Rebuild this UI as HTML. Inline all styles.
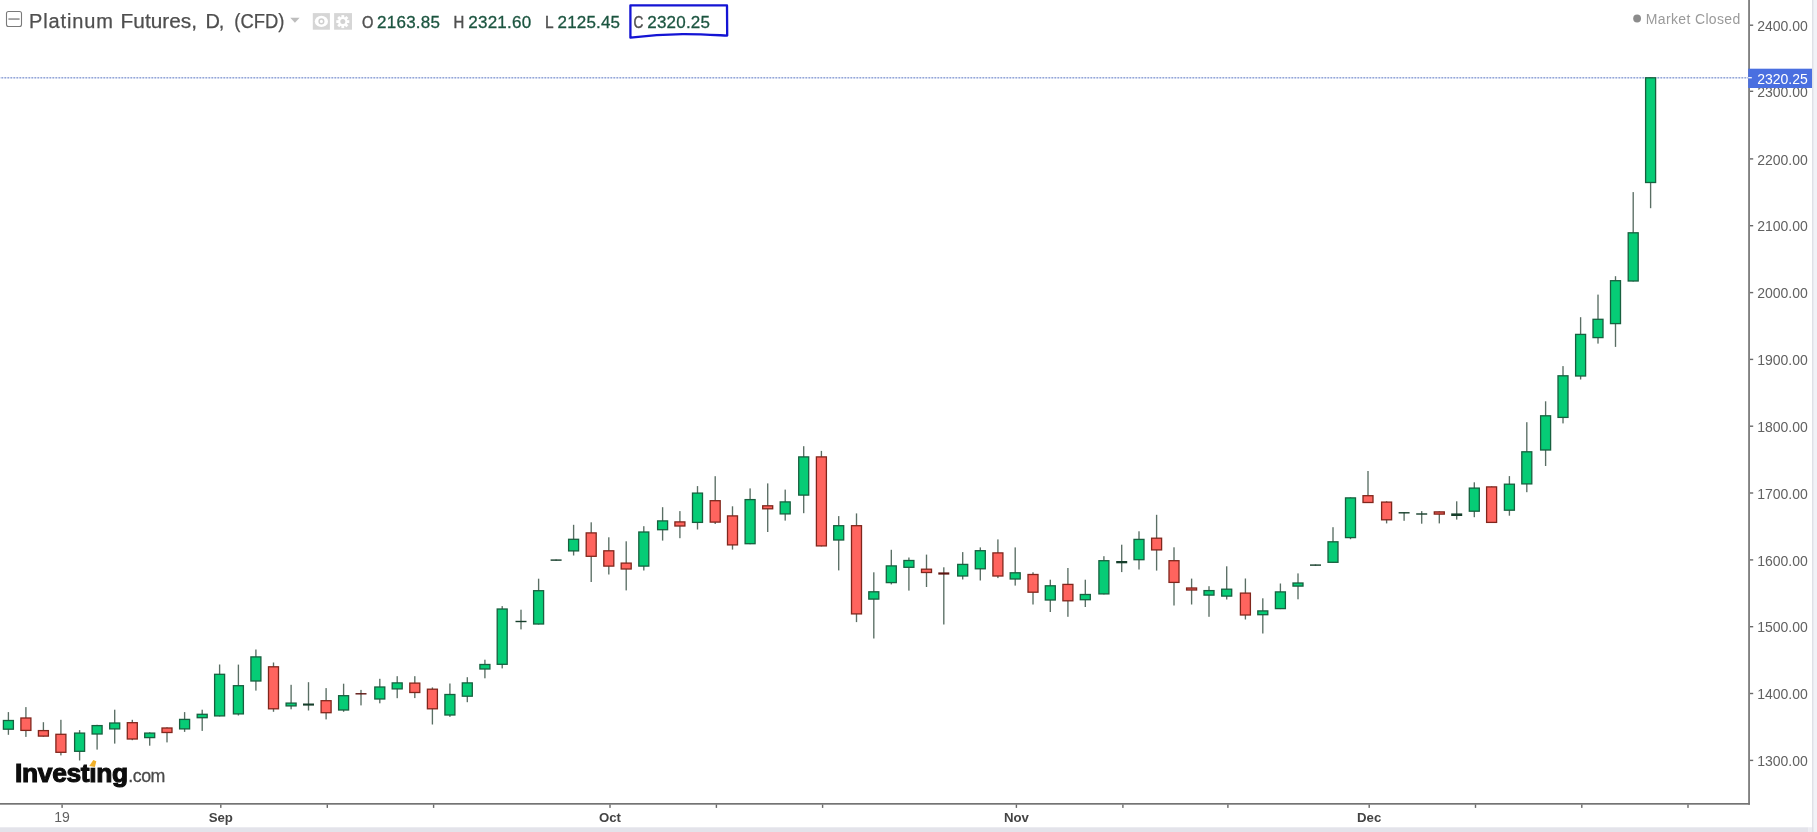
<!DOCTYPE html>
<html><head><meta charset="utf-8"><title>Platinum Futures</title>
<style>
html,body{margin:0;padding:0;background:#fff;}
body{width:1817px;height:832px;overflow:hidden;position:relative;font-family:"Liberation Sans",sans-serif;}
svg{position:absolute;left:-20px;top:-20px;filter:blur(0.45px);}
text{font-family:"Liberation Sans",sans-serif;}
.ax{font-size:14px;fill:#616161;}
.axb{font-size:13.2px;fill:#444;font-weight:bold;}
</style></head><body>
<svg width="1857" height="872" viewBox="-20 -20 1857 872">
<rect x="-20" y="-20" width="1857" height="872" fill="#fff"/>
<!-- right strip and bottom band -->
<rect x="-20" y="827.3" width="1828.5" height="26" fill="#e3e3ea"/>
<rect x="1808.5" y="827.3" width="29" height="26" fill="#ececf2"/>
<rect x="1813.2" y="-20" width="25" height="872" fill="#f1f2f7"/>
<rect x="1812.1" y="-20" width="1.3" height="872" fill="#dcdde4"/>
<!-- last price dotted line -->
<line x1="-19.5" y1="77.7" x2="1748" y2="77.7" stroke="#dfe5f5" stroke-width="1.6"/>
<line x1="-19.5" y1="77.7" x2="1748" y2="77.7" stroke="#94a6d8" stroke-width="1.4" stroke-dasharray="1.5 1.5"/>
<!-- candles -->
<rect x="7.73" y="712.1" width="1.35" height="22.7" fill="#5a6e64"/>
<rect x="25.23" y="707.1" width="1.35" height="29.8" fill="#5a6e64"/>
<rect x="42.73" y="722.2" width="1.35" height="14.4" fill="#5a6e64"/>
<rect x="60.23" y="719.8" width="1.35" height="35.6" fill="#5a6e64"/>
<rect x="78.93" y="730.1" width="1.35" height="30.4" fill="#5a6e64"/>
<rect x="96.43" y="724.8" width="1.35" height="24.8" fill="#5a6e64"/>
<rect x="114.03" y="709.7" width="1.35" height="33.9" fill="#5a6e64"/>
<rect x="131.63" y="719.8" width="1.35" height="20.4" fill="#5a6e64"/>
<rect x="149.03" y="732.3" width="1.35" height="13.4" fill="#5a6e64"/>
<rect x="166.33" y="727.3" width="1.35" height="15.1" fill="#5a6e64"/>
<rect x="183.93" y="712.1" width="1.35" height="19.8" fill="#5a6e64"/>
<rect x="201.53" y="709.7" width="1.35" height="21.2" fill="#5a6e64"/>
<rect x="218.93" y="664.5" width="1.35" height="51.9" fill="#5a6e64"/>
<rect x="237.73" y="664.6" width="1.35" height="50.9" fill="#5a6e64"/>
<rect x="255.23" y="649.5" width="1.35" height="41.1" fill="#5a6e64"/>
<rect x="272.83" y="662.5" width="1.35" height="49.3" fill="#5a6e64"/>
<rect x="290.43" y="684.8" width="1.35" height="24.5" fill="#5a6e64"/>
<rect x="307.83" y="682.2" width="1.35" height="28.3" fill="#5a6e64"/>
<rect x="325.43" y="688.1" width="1.35" height="31.3" fill="#5a6e64"/>
<rect x="342.93" y="683.7" width="1.35" height="28.1" fill="#5a6e64"/>
<rect x="360.33" y="689.9" width="1.35" height="15.5" fill="#5a6e64"/>
<rect x="379.13" y="678.8" width="1.35" height="24.5" fill="#5a6e64"/>
<rect x="396.53" y="676.2" width="1.35" height="22.0" fill="#5a6e64"/>
<rect x="414.13" y="676.2" width="1.35" height="21.9" fill="#5a6e64"/>
<rect x="431.73" y="687.4" width="1.35" height="37.1" fill="#5a6e64"/>
<rect x="449.23" y="683.5" width="1.35" height="33.4" fill="#5a6e64"/>
<rect x="466.63" y="677.2" width="1.35" height="25.0" fill="#5a6e64"/>
<rect x="484.23" y="659.7" width="1.35" height="18.6" fill="#5a6e64"/>
<rect x="501.53" y="606.1" width="1.35" height="62.3" fill="#5a6e64"/>
<rect x="520.33" y="609.7" width="1.35" height="19.7" fill="#5a6e64"/>
<rect x="537.93" y="578.7" width="1.35" height="45.8" fill="#5a6e64"/>
<rect x="555.43" y="559.5" width="1.35" height="1.2" fill="#5a6e64"/>
<rect x="572.93" y="524.8" width="1.35" height="30.7" fill="#5a6e64"/>
<rect x="590.53" y="522.3" width="1.35" height="59.7" fill="#5a6e64"/>
<rect x="608.13" y="537.3" width="1.35" height="37.2" fill="#5a6e64"/>
<rect x="625.53" y="541.3" width="1.35" height="49.1" fill="#5a6e64"/>
<rect x="643.13" y="526.2" width="1.35" height="44.3" fill="#5a6e64"/>
<rect x="661.93" y="507.2" width="1.35" height="33.4" fill="#5a6e64"/>
<rect x="679.23" y="511.1" width="1.35" height="27.1" fill="#5a6e64"/>
<rect x="696.83" y="486.1" width="1.35" height="43.4" fill="#5a6e64"/>
<rect x="714.53" y="476.2" width="1.35" height="47.8" fill="#5a6e64"/>
<rect x="731.83" y="506.3" width="1.35" height="43.3" fill="#5a6e64"/>
<rect x="749.43" y="488.4" width="1.35" height="55.8" fill="#5a6e64"/>
<rect x="767.03" y="483.4" width="1.35" height="48.6" fill="#5a6e64"/>
<rect x="784.53" y="489.6" width="1.35" height="31.0" fill="#5a6e64"/>
<rect x="803.03" y="446.2" width="1.35" height="67.0" fill="#5a6e64"/>
<rect x="820.73" y="450.9" width="1.35" height="95.5" fill="#5a6e64"/>
<rect x="838.03" y="516.1" width="1.35" height="54.3" fill="#5a6e64"/>
<rect x="855.83" y="513.4" width="1.35" height="108.7" fill="#5a6e64"/>
<rect x="873.13" y="572.3" width="1.35" height="66.2" fill="#5a6e64"/>
<rect x="890.63" y="549.8" width="1.35" height="34.6" fill="#5a6e64"/>
<rect x="908.23" y="557.5" width="1.35" height="33.1" fill="#5a6e64"/>
<rect x="925.83" y="554.6" width="1.35" height="32.4" fill="#5a6e64"/>
<rect x="943.13" y="567.3" width="1.35" height="57.2" fill="#5a6e64"/>
<rect x="962.03" y="552.1" width="1.35" height="27.4" fill="#5a6e64"/>
<rect x="979.63" y="547.4" width="1.35" height="33.1" fill="#5a6e64"/>
<rect x="997.23" y="539.4" width="1.35" height="38.7" fill="#5a6e64"/>
<rect x="1014.53" y="547.4" width="1.35" height="38.2" fill="#5a6e64"/>
<rect x="1032.33" y="572.3" width="1.35" height="32.2" fill="#5a6e64"/>
<rect x="1049.63" y="579.7" width="1.35" height="32.3" fill="#5a6e64"/>
<rect x="1067.23" y="568.0" width="1.35" height="48.8" fill="#5a6e64"/>
<rect x="1084.63" y="579.7" width="1.35" height="27.3" fill="#5a6e64"/>
<rect x="1103.23" y="556.2" width="1.35" height="38.2" fill="#5a6e64"/>
<rect x="1121.03" y="544.7" width="1.35" height="27.4" fill="#5a6e64"/>
<rect x="1138.33" y="531.3" width="1.35" height="38.2" fill="#5a6e64"/>
<rect x="1155.93" y="514.8" width="1.35" height="55.8" fill="#5a6e64"/>
<rect x="1173.33" y="547.3" width="1.35" height="58.2" fill="#5a6e64"/>
<rect x="1190.93" y="578.6" width="1.35" height="25.9" fill="#5a6e64"/>
<rect x="1208.33" y="586.2" width="1.35" height="30.6" fill="#5a6e64"/>
<rect x="1226.03" y="566.3" width="1.35" height="33.2" fill="#5a6e64"/>
<rect x="1244.73" y="578.5" width="1.35" height="41.0" fill="#5a6e64"/>
<rect x="1262.13" y="598.3" width="1.35" height="35.2" fill="#5a6e64"/>
<rect x="1279.73" y="583.5" width="1.35" height="25.6" fill="#5a6e64"/>
<rect x="1297.33" y="573.4" width="1.35" height="25.9" fill="#5a6e64"/>
<rect x="1314.83" y="564.5" width="1.35" height="1.2" fill="#5a6e64"/>
<rect x="1332.33" y="527.2" width="1.35" height="35.6" fill="#5a6e64"/>
<rect x="1349.83" y="497.4" width="1.35" height="41.8" fill="#5a6e64"/>
<rect x="1367.33" y="471.0" width="1.35" height="32.0" fill="#5a6e64"/>
<rect x="1385.93" y="501.3" width="1.35" height="22.1" fill="#5a6e64"/>
<rect x="1403.43" y="512.2" width="1.35" height="8.6" fill="#5a6e64"/>
<rect x="1421.03" y="511.1" width="1.35" height="12.6" fill="#5a6e64"/>
<rect x="1438.63" y="511.4" width="1.35" height="12.0" fill="#5a6e64"/>
<rect x="1456.03" y="501.3" width="1.35" height="18.3" fill="#5a6e64"/>
<rect x="1473.63" y="482.3" width="1.35" height="34.9" fill="#5a6e64"/>
<rect x="1490.93" y="486.4" width="1.35" height="36.5" fill="#5a6e64"/>
<rect x="1508.73" y="476.1" width="1.35" height="39.6" fill="#5a6e64"/>
<rect x="1526.13" y="422.2" width="1.35" height="70.0" fill="#5a6e64"/>
<rect x="1544.93" y="401.3" width="1.35" height="64.7" fill="#5a6e64"/>
<rect x="1562.33" y="366.1" width="1.35" height="57.3" fill="#5a6e64"/>
<rect x="1579.93" y="317.2" width="1.35" height="62.3" fill="#5a6e64"/>
<rect x="1597.33" y="294.6" width="1.35" height="49.0" fill="#5a6e64"/>
<rect x="1614.83" y="276.2" width="1.35" height="70.7" fill="#5a6e64"/>
<rect x="1632.53" y="192.1" width="1.35" height="89.4" fill="#5a6e64"/>
<rect x="1649.93" y="77.3" width="1.35" height="130.9" fill="#5a6e64"/>
<rect x="3.40" y="720.5" width="10" height="8.7" fill="#06cc76" stroke="#17603f" stroke-width="1.3"/>
<rect x="20.90" y="718.0" width="10" height="12.4" fill="#ff645e" stroke="#80261c" stroke-width="1.3"/>
<rect x="38.40" y="730.6" width="10" height="5.5" fill="#ff645e" stroke="#80261c" stroke-width="1.3"/>
<rect x="55.90" y="734.3" width="10" height="18.0" fill="#ff645e" stroke="#80261c" stroke-width="1.3"/>
<rect x="74.60" y="733.1" width="10" height="18.2" fill="#06cc76" stroke="#17603f" stroke-width="1.3"/>
<rect x="92.10" y="725.6" width="10" height="8.4" fill="#06cc76" stroke="#17603f" stroke-width="1.3"/>
<rect x="109.70" y="723.0" width="10" height="5.9" fill="#06cc76" stroke="#17603f" stroke-width="1.3"/>
<rect x="127.30" y="722.7" width="10" height="16.3" fill="#ff645e" stroke="#80261c" stroke-width="1.3"/>
<rect x="144.70" y="733.1" width="10" height="4.5" fill="#06cc76" stroke="#17603f" stroke-width="1.3"/>
<rect x="162.00" y="728.0" width="10" height="4.5" fill="#ff645e" stroke="#80261c" stroke-width="1.3"/>
<rect x="179.60" y="719.4" width="10" height="9.5" fill="#06cc76" stroke="#17603f" stroke-width="1.3"/>
<rect x="197.20" y="714.3" width="10" height="3.4" fill="#06cc76" stroke="#17603f" stroke-width="1.3"/>
<rect x="214.60" y="674.3" width="10" height="41.6" fill="#06cc76" stroke="#17603f" stroke-width="1.3"/>
<rect x="233.40" y="685.7" width="10" height="28.2" fill="#06cc76" stroke="#17603f" stroke-width="1.3"/>
<rect x="250.90" y="656.9" width="10" height="24.1" fill="#06cc76" stroke="#17603f" stroke-width="1.3"/>
<rect x="268.50" y="666.8" width="10" height="42.0" fill="#ff645e" stroke="#80261c" stroke-width="1.3"/>
<rect x="286.10" y="703.1" width="10" height="2.8" fill="#06cc76" stroke="#17603f" stroke-width="1.3"/>
<rect x="303.00" y="703.5" width="11" height="2.1" fill="#163f2b"/>
<rect x="321.10" y="700.7" width="10" height="12.0" fill="#ff645e" stroke="#80261c" stroke-width="1.3"/>
<rect x="338.60" y="695.7" width="10" height="14.3" fill="#06cc76" stroke="#17603f" stroke-width="1.3"/>
<rect x="355.50" y="693.1" width="11" height="1.4" fill="#5e1510"/>
<rect x="374.80" y="687.0" width="10" height="12.0" fill="#06cc76" stroke="#17603f" stroke-width="1.3"/>
<rect x="392.20" y="682.9" width="10" height="6.0" fill="#06cc76" stroke="#17603f" stroke-width="1.3"/>
<rect x="409.80" y="683.1" width="10" height="9.4" fill="#ff645e" stroke="#80261c" stroke-width="1.3"/>
<rect x="427.40" y="689.2" width="10" height="19.6" fill="#ff645e" stroke="#80261c" stroke-width="1.3"/>
<rect x="444.90" y="694.5" width="10" height="20.5" fill="#06cc76" stroke="#17603f" stroke-width="1.3"/>
<rect x="462.30" y="682.9" width="10" height="13.3" fill="#06cc76" stroke="#17603f" stroke-width="1.3"/>
<rect x="479.90" y="664.5" width="10" height="4.5" fill="#06cc76" stroke="#17603f" stroke-width="1.3"/>
<rect x="497.20" y="609.0" width="10" height="55.3" fill="#06cc76" stroke="#17603f" stroke-width="1.3"/>
<rect x="515.50" y="620.8" width="11" height="1.4" fill="#163f2b"/>
<rect x="533.60" y="590.7" width="10" height="33.3" fill="#06cc76" stroke="#17603f" stroke-width="1.3"/>
<rect x="550.60" y="559.4" width="11" height="1.4" fill="#163f2b"/>
<rect x="568.60" y="539.3" width="10" height="11.6" fill="#06cc76" stroke="#17603f" stroke-width="1.3"/>
<rect x="586.20" y="532.9" width="10" height="23.4" fill="#ff645e" stroke="#80261c" stroke-width="1.3"/>
<rect x="603.80" y="550.8" width="10" height="15.3" fill="#ff645e" stroke="#80261c" stroke-width="1.3"/>
<rect x="621.20" y="563.1" width="10" height="5.9" fill="#ff645e" stroke="#80261c" stroke-width="1.3"/>
<rect x="638.80" y="532.0" width="10" height="34.1" fill="#06cc76" stroke="#17603f" stroke-width="1.3"/>
<rect x="657.60" y="520.9" width="10" height="8.8" fill="#06cc76" stroke="#17603f" stroke-width="1.3"/>
<rect x="674.90" y="521.9" width="10" height="4.1" fill="#ff645e" stroke="#80261c" stroke-width="1.3"/>
<rect x="692.50" y="493.1" width="10" height="29.3" fill="#06cc76" stroke="#17603f" stroke-width="1.3"/>
<rect x="710.20" y="500.7" width="10" height="21.4" fill="#ff645e" stroke="#80261c" stroke-width="1.3"/>
<rect x="727.50" y="515.9" width="10" height="29.0" fill="#ff645e" stroke="#80261c" stroke-width="1.3"/>
<rect x="745.10" y="499.6" width="10" height="44.1" fill="#06cc76" stroke="#17603f" stroke-width="1.3"/>
<rect x="762.70" y="505.8" width="10" height="3.0" fill="#ff645e" stroke="#80261c" stroke-width="1.3"/>
<rect x="780.20" y="501.9" width="10" height="12.0" fill="#06cc76" stroke="#17603f" stroke-width="1.3"/>
<rect x="798.70" y="456.9" width="10" height="38.2" fill="#06cc76" stroke="#17603f" stroke-width="1.3"/>
<rect x="816.40" y="456.9" width="10" height="89.0" fill="#ff645e" stroke="#80261c" stroke-width="1.3"/>
<rect x="833.70" y="525.7" width="10" height="14.3" fill="#06cc76" stroke="#17603f" stroke-width="1.3"/>
<rect x="851.50" y="525.7" width="10" height="88.2" fill="#ff645e" stroke="#80261c" stroke-width="1.3"/>
<rect x="868.80" y="591.8" width="10" height="7.3" fill="#06cc76" stroke="#17603f" stroke-width="1.3"/>
<rect x="886.30" y="565.9" width="10" height="16.7" fill="#06cc76" stroke="#17603f" stroke-width="1.3"/>
<rect x="903.90" y="560.5" width="10" height="6.8" fill="#06cc76" stroke="#17603f" stroke-width="1.3"/>
<rect x="921.50" y="569.2" width="10" height="3.3" fill="#ff645e" stroke="#80261c" stroke-width="1.3"/>
<rect x="938.30" y="572.4" width="11" height="2.2" fill="#5e1510"/>
<rect x="957.70" y="564.4" width="10" height="11.6" fill="#06cc76" stroke="#17603f" stroke-width="1.3"/>
<rect x="975.30" y="550.7" width="10" height="18.1" fill="#06cc76" stroke="#17603f" stroke-width="1.3"/>
<rect x="992.90" y="552.9" width="10" height="23.1" fill="#ff645e" stroke="#80261c" stroke-width="1.3"/>
<rect x="1010.20" y="572.8" width="10" height="6.2" fill="#06cc76" stroke="#17603f" stroke-width="1.3"/>
<rect x="1028.00" y="574.5" width="10" height="17.7" fill="#ff645e" stroke="#80261c" stroke-width="1.3"/>
<rect x="1045.30" y="585.8" width="10" height="14.2" fill="#06cc76" stroke="#17603f" stroke-width="1.3"/>
<rect x="1062.90" y="584.4" width="10" height="16.4" fill="#ff645e" stroke="#80261c" stroke-width="1.3"/>
<rect x="1080.30" y="594.5" width="10" height="5.2" fill="#06cc76" stroke="#17603f" stroke-width="1.3"/>
<rect x="1098.90" y="560.7" width="10" height="33.2" fill="#06cc76" stroke="#17603f" stroke-width="1.3"/>
<rect x="1116.20" y="561.0" width="11" height="2.3" fill="#163f2b"/>
<rect x="1134.00" y="539.4" width="10" height="20.3" fill="#06cc76" stroke="#17603f" stroke-width="1.3"/>
<rect x="1151.60" y="538.2" width="10" height="11.7" fill="#ff645e" stroke="#80261c" stroke-width="1.3"/>
<rect x="1169.00" y="560.7" width="10" height="21.7" fill="#ff645e" stroke="#80261c" stroke-width="1.3"/>
<rect x="1186.60" y="588.0" width="10" height="2.0" fill="#ff645e" stroke="#80261c" stroke-width="1.3"/>
<rect x="1204.00" y="590.6" width="10" height="4.5" fill="#06cc76" stroke="#17603f" stroke-width="1.3"/>
<rect x="1221.70" y="589.2" width="10" height="6.9" fill="#06cc76" stroke="#17603f" stroke-width="1.3"/>
<rect x="1240.40" y="593.1" width="10" height="21.9" fill="#ff645e" stroke="#80261c" stroke-width="1.3"/>
<rect x="1257.80" y="610.9" width="10" height="3.8" fill="#06cc76" stroke="#17603f" stroke-width="1.3"/>
<rect x="1275.40" y="591.9" width="10" height="16.7" fill="#06cc76" stroke="#17603f" stroke-width="1.3"/>
<rect x="1293.00" y="583.0" width="10" height="3.1" fill="#06cc76" stroke="#17603f" stroke-width="1.3"/>
<rect x="1310.00" y="564.4" width="11" height="1.4" fill="#163f2b"/>
<rect x="1328.00" y="541.8" width="10" height="20.5" fill="#06cc76" stroke="#17603f" stroke-width="1.3"/>
<rect x="1345.50" y="497.9" width="10" height="39.7" fill="#06cc76" stroke="#17603f" stroke-width="1.3"/>
<rect x="1363.00" y="495.7" width="10" height="6.8" fill="#ff645e" stroke="#80261c" stroke-width="1.3"/>
<rect x="1381.60" y="502.1" width="10" height="17.7" fill="#ff645e" stroke="#80261c" stroke-width="1.3"/>
<rect x="1398.60" y="512.1" width="11" height="1.4" fill="#163f2b"/>
<rect x="1416.20" y="513.3" width="11" height="1.4" fill="#163f2b"/>
<rect x="1434.30" y="511.9" width="10" height="2.2" fill="#ff645e" stroke="#80261c" stroke-width="1.3"/>
<rect x="1451.20" y="513.4" width="11" height="2.6" fill="#163f2b"/>
<rect x="1469.30" y="488.1" width="10" height="23.1" fill="#06cc76" stroke="#17603f" stroke-width="1.3"/>
<rect x="1486.60" y="486.9" width="10" height="35.5" fill="#ff645e" stroke="#80261c" stroke-width="1.3"/>
<rect x="1504.40" y="484.2" width="10" height="26.0" fill="#06cc76" stroke="#17603f" stroke-width="1.3"/>
<rect x="1521.80" y="451.8" width="10" height="32.1" fill="#06cc76" stroke="#17603f" stroke-width="1.3"/>
<rect x="1540.60" y="415.8" width="10" height="34.2" fill="#06cc76" stroke="#17603f" stroke-width="1.3"/>
<rect x="1558.00" y="375.8" width="10" height="41.6" fill="#06cc76" stroke="#17603f" stroke-width="1.3"/>
<rect x="1575.60" y="334.4" width="10" height="41.6" fill="#06cc76" stroke="#17603f" stroke-width="1.3"/>
<rect x="1593.00" y="319.3" width="10" height="18.3" fill="#06cc76" stroke="#17603f" stroke-width="1.3"/>
<rect x="1610.50" y="280.7" width="10" height="42.9" fill="#06cc76" stroke="#17603f" stroke-width="1.3"/>
<rect x="1628.20" y="232.8" width="10" height="48.2" fill="#06cc76" stroke="#17603f" stroke-width="1.3"/>
<rect x="1645.60" y="77.8" width="10" height="104.7" fill="#06cc76" stroke="#17603f" stroke-width="1.3"/>
<!-- axes -->
<rect x="1748.2" y="-20" width="1.7" height="824.7" fill="#747474"/>
<rect x="-20" y="803" width="1769.9" height="1.7" fill="#747474"/>
<rect x="1750" y="759.7" width="3.2" height="1.4" fill="#6a6a6a"/>
<text x="1757.2" y="766.1" class="ax">1300.00</text>
<rect x="1750" y="692.8" width="3.2" height="1.4" fill="#6a6a6a"/>
<text x="1757.2" y="699.2" class="ax">1400.00</text>
<rect x="1750" y="626.0" width="3.2" height="1.4" fill="#6a6a6a"/>
<text x="1757.2" y="632.4" class="ax">1500.00</text>
<rect x="1750" y="559.2" width="3.2" height="1.4" fill="#6a6a6a"/>
<text x="1757.2" y="565.6" class="ax">1600.00</text>
<rect x="1750" y="492.3" width="3.2" height="1.4" fill="#6a6a6a"/>
<text x="1757.2" y="498.7" class="ax">1700.00</text>
<rect x="1750" y="425.5" width="3.2" height="1.4" fill="#6a6a6a"/>
<text x="1757.2" y="431.9" class="ax">1800.00</text>
<rect x="1750" y="358.7" width="3.2" height="1.4" fill="#6a6a6a"/>
<text x="1757.2" y="365.1" class="ax">1900.00</text>
<rect x="1750" y="291.9" width="3.2" height="1.4" fill="#6a6a6a"/>
<text x="1757.2" y="298.3" class="ax">2000.00</text>
<rect x="1750" y="225.0" width="3.2" height="1.4" fill="#6a6a6a"/>
<text x="1757.2" y="231.4" class="ax">2100.00</text>
<rect x="1750" y="158.2" width="3.2" height="1.4" fill="#6a6a6a"/>
<text x="1757.2" y="164.6" class="ax">2200.00</text>
<rect x="1750" y="90.6" width="3.2" height="1.4" fill="#6a6a6a"/>
<text x="1757.2" y="97.0" class="ax">2300.00</text>
<rect x="1750" y="24.5" width="3.2" height="1.4" fill="#6a6a6a"/>
<text x="1757.2" y="30.9" class="ax">2400.00</text>
<rect x="61.4" y="804.5" width="1.4" height="3.4" fill="#6a6a6a"/>
<text x="62.1" y="821.7" text-anchor="middle" class="ax">19</text>
<rect x="220.1" y="804.5" width="1.4" height="3.4" fill="#6a6a6a"/>
<text x="220.8" y="821.7" text-anchor="middle" class="axb">Sep</text>
<rect x="326.6" y="804.5" width="1.4" height="3.4" fill="#6a6a6a"/>
<rect x="432.9" y="804.5" width="1.4" height="3.4" fill="#6a6a6a"/>
<rect x="609.3" y="804.5" width="1.4" height="3.4" fill="#6a6a6a"/>
<text x="610.0" y="821.7" text-anchor="middle" class="axb">Oct</text>
<rect x="715.7" y="804.5" width="1.4" height="3.4" fill="#6a6a6a"/>
<rect x="821.9" y="804.5" width="1.4" height="3.4" fill="#6a6a6a"/>
<rect x="1015.7" y="804.5" width="1.4" height="3.4" fill="#6a6a6a"/>
<text x="1016.4" y="821.7" text-anchor="middle" class="axb">Nov</text>
<rect x="1122.2" y="804.5" width="1.4" height="3.4" fill="#6a6a6a"/>
<rect x="1227.2" y="804.5" width="1.4" height="3.4" fill="#6a6a6a"/>
<rect x="1368.5" y="804.5" width="1.4" height="3.4" fill="#6a6a6a"/>
<text x="1369.2" y="821.7" text-anchor="middle" class="axb">Dec</text>
<rect x="1474.8" y="804.5" width="1.4" height="3.4" fill="#6a6a6a"/>
<rect x="1581.1" y="804.5" width="1.4" height="3.4" fill="#6a6a6a"/>
<rect x="1687.3" y="804.5" width="1.4" height="3.4" fill="#6a6a6a"/>
<!-- last price label -->
<rect x="1748.2" y="68.7" width="63.8" height="19.3" fill="#4a6fe0"/>
<rect x="1748.2" y="77" width="3.6" height="1.4" fill="#e8eeff"/>
<text x="1757.2" y="84.0" class="ax" style="fill:#fff">2320.25</text>
<!-- header -->
<rect x="6.5" y="11.5" width="15" height="15" rx="2" ry="2" fill="#fff" stroke="#7a7a7a" stroke-width="1.1"/>
<rect x="8.4" y="18.3" width="11.2" height="1.5" fill="#8a8a8a"/>
<g font-size="20" fill="#4f4f4f" stroke="#4f4f4f" stroke-width="0.25"><text x="29.0" y="27.5" textLength="83.8" lengthAdjust="spacing">Platinum</text><text x="120.6" y="27.5" textLength="76.4" lengthAdjust="spacingAndGlyphs">Futures,</text><text x="205.4" y="27.5" textLength="18.9" lengthAdjust="spacing">D,</text><text x="234.3" y="27.5" textLength="50.2" lengthAdjust="spacingAndGlyphs">(CFD)</text></g>
<path d="M290.3 17.8 L299.6 17.8 L294.9 22.8 Z" fill="#bdbdbd"/>
<!-- eye icon -->
<rect x="312.8" y="13.1" width="17.1" height="16.6" fill="#d6d6d6"/>
<ellipse cx="321.4" cy="21.4" rx="6.6" ry="5.6" fill="#fff"/>
<circle cx="321.4" cy="21.4" r="2.3" fill="none" stroke="#cfcfcf" stroke-width="1.5"/>
<!-- gear icon -->
<rect x="334.1" y="13.1" width="17.9" height="16.6" fill="#d6d6d6"/>
<g transform="translate(342.8 21.6)" fill="#fff">
<circle r="4.7"/>
<rect x="-1.4" y="-6.5" width="2.8" height="13"/><rect x="-6.5" y="-1.4" width="13" height="2.8"/>
<g transform="rotate(45)"><rect x="-1.4" y="-6.5" width="2.8" height="13"/><rect x="-6.5" y="-1.4" width="13" height="2.8"/></g>
<circle r="2.5" fill="#d2d2d2"/>
</g>
<!-- OHLC -->
<g font-size="17" stroke="#1c5540" stroke-width="0.3">
<text x="362.0" y="27.5" fill="#505050" stroke="#505050" stroke-width="0.45" textLength="11.4" lengthAdjust="spacingAndGlyphs">O</text>
<text x="377.0" y="27.5" fill="#1c5540" textLength="63" lengthAdjust="spacing">2163.85</text>
<text x="453.6" y="27.5" fill="#505050" stroke="#505050" stroke-width="0.45" textLength="10.8" lengthAdjust="spacingAndGlyphs">H</text>
<text x="468.3" y="27.5" fill="#1c5540" textLength="62.8" lengthAdjust="spacing">2321.60</text>
<text x="545.0" y="27.5" fill="#505050" stroke="#505050" stroke-width="0.45" textLength="8.6" lengthAdjust="spacingAndGlyphs">L</text>
<text x="557.6" y="27.5" fill="#1c5540" textLength="62.4" lengthAdjust="spacing">2125.45</text>
<text x="633.6" y="27.5" fill="#505050" stroke="#505050" stroke-width="0.45" textLength="9.8" lengthAdjust="spacingAndGlyphs">C</text>
<text x="647.3" y="27.5" fill="#1c5540" textLength="62.7" lengthAdjust="spacing">2320.25</text>
</g>
<!-- hand drawn box -->
<path d="M630.4 5.4 L727 5.4 L727.2 35.6 C705 34.5 675 32 630.4 37.6 Z" fill="none" stroke="#1414d4" stroke-width="2.3" stroke-linejoin="round"/>
<!-- market closed -->
<circle cx="1637.1" cy="18.5" r="3.9" fill="#8c8c8c"/>
<text x="1645.8" y="23.7" font-size="14" fill="#9a9a9a" textLength="94.5" lengthAdjust="spacing">Market Closed</text>
<!-- logo -->
<text x="15.0" y="782.1" font-size="26.4" font-weight="bold" fill="#0d0d0d" stroke="#0d0d0d" stroke-width="1.1" textLength="113.2" lengthAdjust="spacing">Investing</text>
<rect x="88.5" y="759" width="9" height="8.4" fill="#fff"/>
<path d="M89.3 766.0 L93.3 760.1 L96.3 761.3 L94.9 767.0 Z" fill="#f0b02a"/>
<text x="128.2" y="782.1" font-size="17.8" fill="#4a4a4a" stroke="#4a4a4a" stroke-width="0.3" textLength="37.2" lengthAdjust="spacing">.com</text>
</svg>
</body></html>
